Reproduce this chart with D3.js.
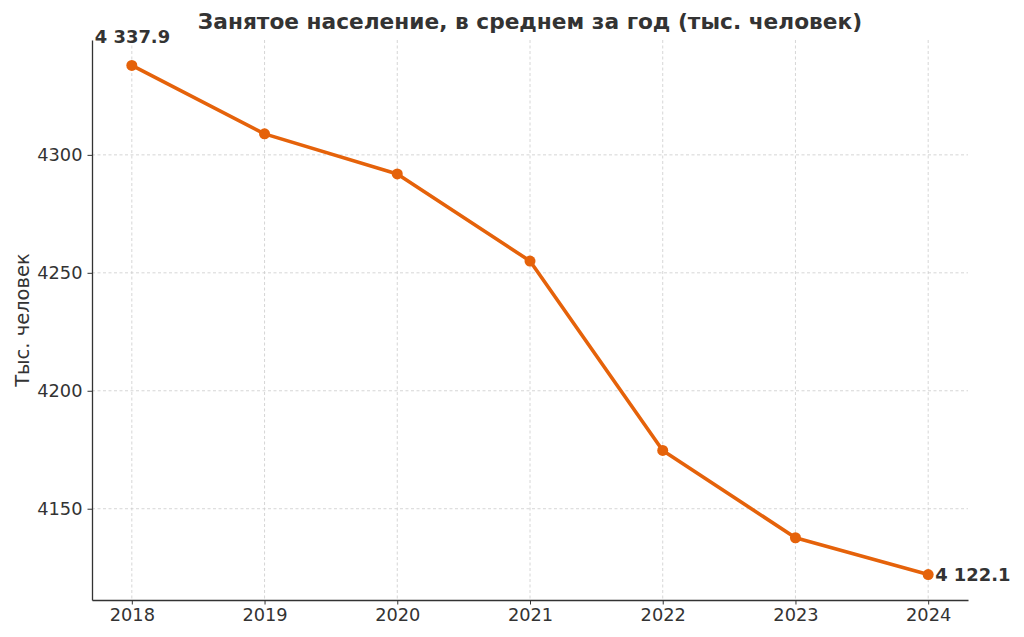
<!DOCTYPE html>
<html>
<head>
<meta charset="utf-8">
<script src="https://cdn.jsdelivr.net/npm/d3@7"></script>
<style>
  body { margin: 0; background: #fff; }
  svg { font-family: "DejaVu Sans", sans-serif; }
</style>
</head>
<body>
<div id="chart"></div>
<script>
// data
const YEARS = [2018, 2019, 2020, 2021, 2022, 2023, 2024];
const EMPLOYED = [4337.9, 4308.9, 4291.9, 4255.0, 4174.7, 4137.7, 4122.1];
const Y_TICKS = [4150, 4200, 4250, 4300];
const TITLE = "Занятое население, в среднем за год (тыс. человек)";
const Y_LABEL = "Тыс. человек";

const WIDTH = 1024, HEIGHT = 637;
const MARGINS = {left: 92, right: 56, top: 40, bottom: 37};
const COLOR = "#e5620a";
const TEXT = "#333333";

const svg = d3.select("#chart").append("svg")
  .attr("width", WIDTH)
  .attr("height", HEIGHT);

// 5% padding like matplotlib
const xMin = d3.min(YEARS), xMax = d3.max(YEARS);
const xPad = (xMax - xMin) * 0.05;
const yMin = d3.min(EMPLOYED), yMax = d3.max(EMPLOYED);
const yPad = (yMax - yMin) * 0.05;

const x = d3.scaleLinear()
  .domain([xMin - xPad, xMax + xPad])
  .range([MARGINS.left, WIDTH - MARGINS.right]);
const y = d3.scaleLinear()
  .domain([yMin - yPad, yMax + yPad])
  .range([HEIGHT - MARGINS.bottom, MARGINS.top]);

// grid
const grid = svg.append("g")
  .attr("stroke", "#cccccc")
  .attr("stroke-width", 0.8)
  .attr("stroke-dasharray", "3,2.5");
grid.selectAll(".vg").data(YEARS).join("line")
  .attr("x1", d => x(d)).attr("x2", d => x(d))
  .attr("y1", MARGINS.top).attr("y2", HEIGHT - MARGINS.bottom);
grid.selectAll(".hg").data(Y_TICKS).join("line")
  .attr("x1", MARGINS.left).attr("x2", WIDTH - MARGINS.right)
  .attr("y1", d => y(d)).attr("y2", d => y(d));

// axes
const xAxis = svg.append("g")
  .attr("transform", "translate(0," + (HEIGHT - MARGINS.bottom) + ")")
  .call(d3.axisBottom(x).tickValues(YEARS).tickFormat(d3.format("d")).tickSize(4.5).tickPadding(4).tickSizeOuter(0));
const yAxis = svg.append("g")
  .attr("transform", "translate(" + MARGINS.left + ",0)")
  .call(d3.axisLeft(y).tickValues(Y_TICKS).tickFormat(d3.format("d")).tickSize(4.5).tickPadding(5).tickSizeOuter(0));

[xAxis, yAxis].forEach(a => {
  a.attr("font-family", "DejaVu Sans, sans-serif").attr("font-size", "17.8px");
  a.select(".domain").attr("stroke", TEXT).attr("stroke-width", 1.3);
  a.selectAll(".tick line").attr("stroke", TEXT).attr("stroke-width", 1);
  a.selectAll(".tick text").attr("fill", TEXT);
});

// line
svg.append("path")
  .datum(YEARS.map((d, i) => [d, EMPLOYED[i]]))
  .attr("fill", "none")
  .attr("stroke", COLOR)
  .attr("stroke-width", 3.6)
  .attr("stroke-linejoin", "round")
  .attr("d", d3.line().x(d => x(d[0])).y(d => y(d[1])));

svg.selectAll(".pt").data(YEARS).join("circle")
  .attr("cx", d => x(d))
  .attr("cy", (d, i) => y(EMPLOYED[i]))
  .attr("r", 5.5)
  .attr("fill", COLOR);

// labels for first and last
const fmt = v => d3.format(",.1f")(v).replace(",", " ");
const last = YEARS.length - 1;
svg.append("text")
  .attr("x", x(YEARS[0]) - 37)
  .attr("y", y(EMPLOYED[0]) - 22)
  .attr("font-size", "17.9px").attr("font-weight", "bold").attr("fill", TEXT)
  .text(fmt(EMPLOYED[0]));
svg.append("text")
  .attr("x", x(YEARS[last]) + 7)
  .attr("y", y(EMPLOYED[last]))
  .attr("dy", "0.35em")
  .attr("font-size", "17.9px").attr("font-weight", "bold").attr("fill", TEXT)
  .text(fmt(EMPLOYED[last]));

// title and axis label
svg.append("text")
  .attr("x", (MARGINS.left + WIDTH - MARGINS.right) / 2)
  .attr("y", 29)
  .attr("text-anchor", "middle")
  .attr("font-size", "21.7px").attr("font-weight", "bold").attr("fill", TEXT)
  .text(TITLE);
svg.append("text")
  .attr("transform", "translate(29," + ((MARGINS.top + HEIGHT - MARGINS.bottom) / 2) + ") rotate(-90)")
  .attr("text-anchor", "middle")
  .attr("font-size", "19.5px").attr("fill", TEXT)
  .text(Y_LABEL);
</script>
</body>
</html>
